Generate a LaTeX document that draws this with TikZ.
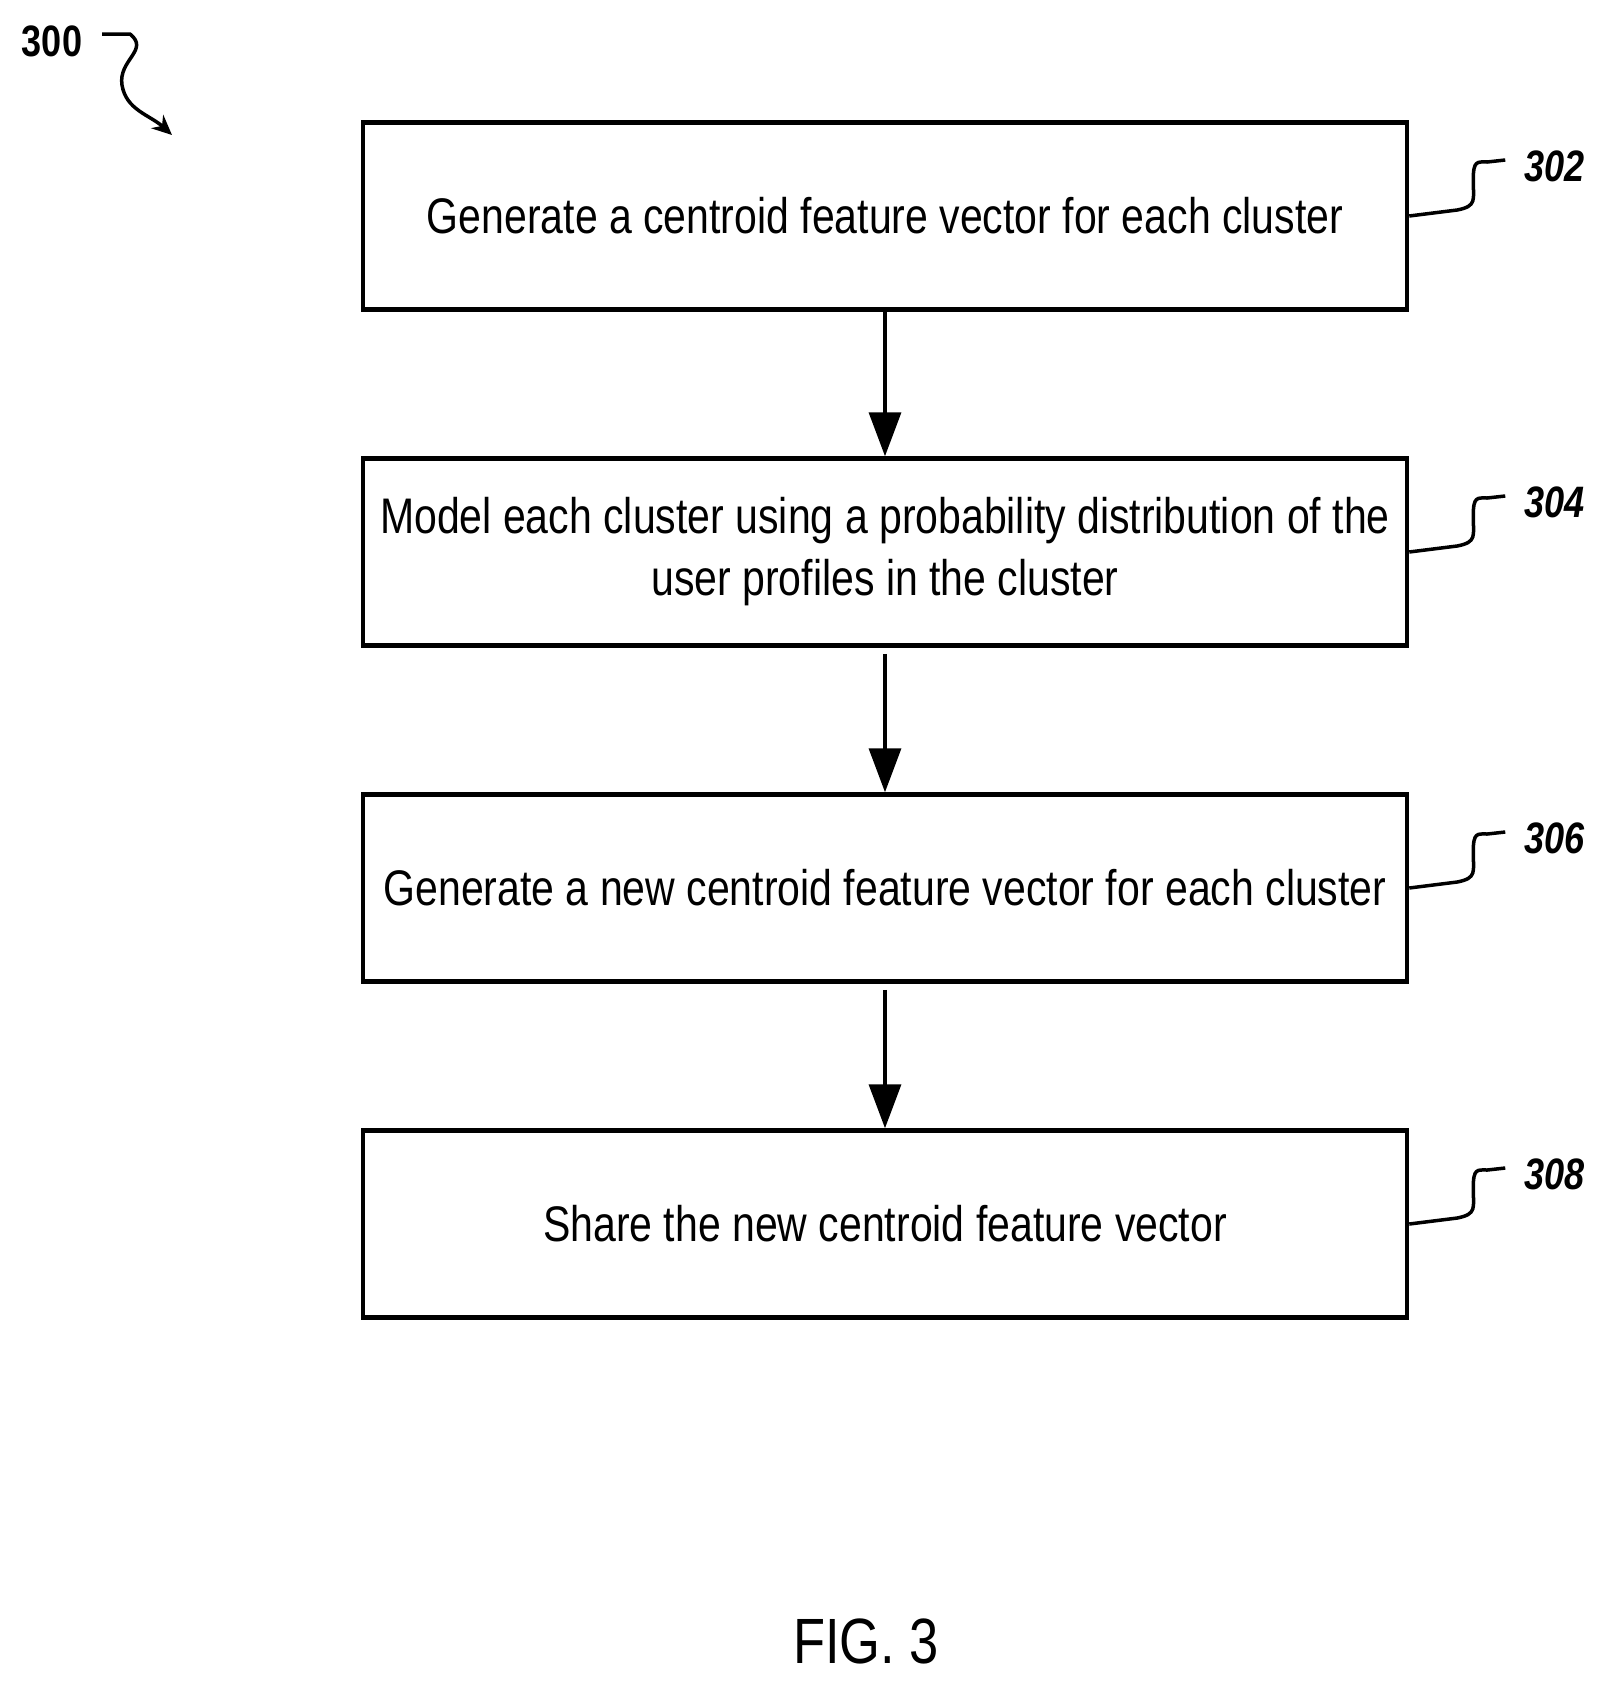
\documentclass[tikz,border=0pt]{standalone}
\usepackage{fontspec}
\setmainfont{Liberation Sans}[FakeStretch=0.82]
\usetikzlibrary{arrows.meta}
\begin{document}
\begin{tikzpicture}[x=1pt,y=-1pt,
 box/.style={draw,line width=4.5pt,minimum width=1044pt,minimum height=187pt,align=center,font=\fontsize{50}{62}\selectfont,inner sep=0pt},
 arr/.style={line width=3.5pt,-{Triangle[length=44pt,width=32pt]}},
 lab/.style={font=\fontsize{44}{44}\selectfont\bfseries\itshape,anchor=west},
 sq/.style={line width=3.5pt}]
\useasboundingbox (0,0) rectangle (1614,1695);
\node[box] (b1) at (885,216) {Generate a centroid feature vector for each cluster};
\node[box] (b2) at (885,552) {Model each cluster using a probability distribution of the\\user profiles in the cluster};
\node[box] (b3) at (885,888) {Generate a new centroid feature vector for each cluster};
\node[box] (b4) at (885,1224) {Share the new centroid feature vector};
\draw[arr] (b1.south) -- (b2.north);
\draw[arr] ([yshift=-6pt]b2.south) -- (b3.north);
\draw[arr] ([yshift=-6pt]b3.south) -- (b4.north);
\foreach \b/\t in {b1/302,b2/304,b3/306,b4/308}{
  \node[lab] (l\t) at ([xshift=112pt,yshift=50pt]\b.east) {\t};
  \draw[sq] (\b.east) -- ++(48,-6) .. controls ++(20,-4) and ++(0,20) .. ++(16,-30) .. controls ++(0,-20) and ++(-10,0) .. ++(14,-18) -- ++(18,-2);
}
\node[font=\fontsize{44}{44}\selectfont\bfseries] (n300) at (52,41) {300};
\coordinate (c300) at (172,135);
\draw[line width=3.5pt,-{Stealth[length=20pt,width=18pt]}] (102,34) -- (130,34) .. controls (150,50) and (118,60) .. (122,85) .. controls (126,110) and (150,115) .. (c300);
\node[font=\fontsize{64}{64}\selectfont] (fig) at (866,1641) {FIG. 3};
\end{tikzpicture}
\end{document}
